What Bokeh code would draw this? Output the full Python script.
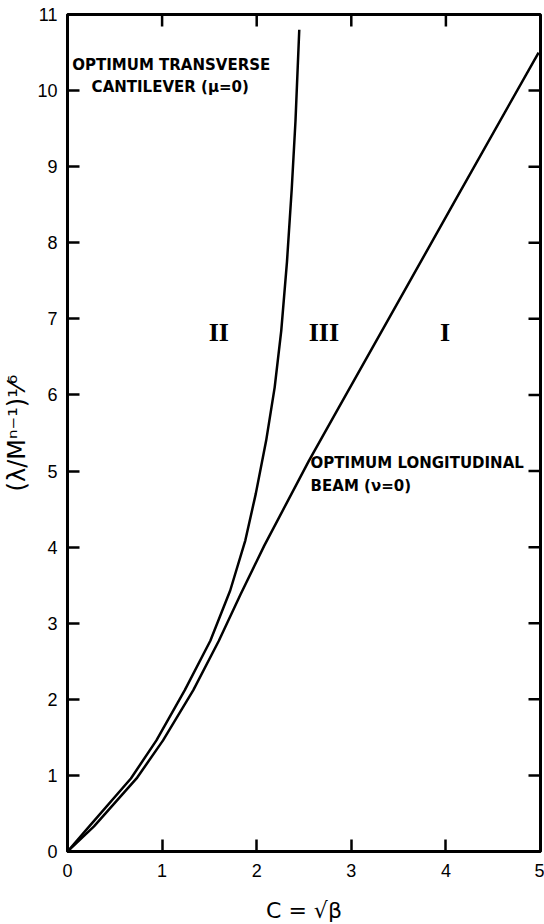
import math
from bokeh.plotting import figure
from bokeh.models import FixedTicker, Label, Range1d
from bokeh.embed import file_html
from bokeh.resources import INLINE

# ---- data ----
x_ticks = [0, 1, 2, 3, 4, 5]
y_ticks = [0, 1, 2, 3, 4, 5, 6, 7, 8, 9, 10, 11]
x_min, x_max = 0, 5
y_min, y_max = 0, 11

# Optimum transverse cantilever (mu = 0)
cantilever_x = [0, 0.23, 0.67, 0.94, 1.24, 1.51, 1.72, 1.88, 1.99, 2.10, 2.19, 2.26, 2.32, 2.37, 2.41, 2.45]
cantilever_y = [0, 0.33, 0.96, 1.46, 2.12, 2.77, 3.43, 4.09, 4.70, 5.40, 6.10, 6.85, 7.75, 8.70, 9.60, 10.80]

# Optimum longitudinal beam (nu = 0)
beam_x = [0, 0.28, 0.73, 1.01, 1.33, 1.60, 1.83, 2.08, 2.55, 2.87, 3.49, 4.10, 4.98]
beam_y = [0, 0.33, 0.96, 1.46, 2.12, 2.77, 3.38, 4.02, 5.13, 5.84, 7.21, 8.56, 10.50]

region_labels = ["II", "III", "I"]
region_x = [1.60, 2.71, 3.99]
region_y = [6.82, 6.82, 6.82]

p = figure(frame_width=473, frame_height=837,
           x_range=Range1d(x_min, x_max), y_range=Range1d(y_min, y_max),
           output_backend="svg", toolbar_location=None,
           min_border_left=67, min_border_right=4,
           min_border_top=14, min_border_bottom=70)

p.grid.visible = False
p.outline_line_color = "black"
p.outline_line_width = 3
p.background_fill_color = "white"
p.border_fill_color = "white"

for ax, ticks in ((p.xaxis[0], x_ticks), (p.yaxis[0], y_ticks)):
    ax.ticker = FixedTicker(ticks=ticks)
    ax.major_tick_in = 12
    ax.major_tick_out = 0
    ax.minor_tick_in = 0
    ax.minor_tick_out = 0
    ax.axis_line_width = 3
    ax.axis_line_color = "black"
    ax.major_tick_line_width = 2.5
    ax.major_tick_line_color = "black"
    ax.major_label_text_font = "Liberation Sans"
    ax.major_label_text_font_size = "18px"
    ax.major_label_text_color = "black"
    ax.axis_label_text_font = "DejaVu Sans"
    ax.axis_label_text_font_style = "normal"
    ax.axis_label_text_color = "black"

p.xaxis[0].major_label_standoff = 12
p.yaxis[0].major_label_standoff = 10

p.xaxis[0].axis_label = "C = √β"
p.xaxis[0].axis_label_text_font_size = "22px"
p.xaxis[0].axis_label_standoff = 18

p.yaxis[0].axis_label = "(λ/Mⁿ⁻¹)¹⁄⁶"
p.yaxis[0].axis_label_text_font_size = "24px"
p.yaxis[0].axis_label_standoff = 3

# inward ticks on the top and right frame edges
p.ray(x=x_ticks, y=[y_max] * len(x_ticks), length=12, length_units="screen",
      angle=-math.pi / 2, line_color="black", line_width=2.5)
p.ray(x=[x_max] * len(y_ticks), y=y_ticks, length=12, length_units="screen",
      angle=math.pi, line_color="black", line_width=2.5)

p.line(cantilever_x, cantilever_y, line_color="black", line_width=2.5)
p.line(beam_x, beam_y, line_color="black", line_width=2.5)

def note(x, y, text):
    p.add_layout(Label(x=x, y=y, text=text, text_font="DejaVu Sans",
                       text_font_style="bold", text_font_size="15px",
                       text_align="left", text_baseline="middle",
                       text_color="black"))

note(0.05, 10.34, "OPTIMUM TRANSVERSE")
note(0.255, 10.05, "CANTILEVER (μ=0)")
note(2.57, 5.10, "OPTIMUM LONGITUDINAL")
note(2.57, 4.81, "BEAM (ν=0)")

for t, x, y in zip(region_labels, region_x, region_y):
    p.add_layout(Label(x=x, y=y, text=t, text_font="Liberation Serif",
                       text_font_style="bold", text_font_size="26px",
                       text_align="center", text_baseline="middle",
                       text_color="black"))

open("out.html", "w").write(file_html(p, INLINE))
